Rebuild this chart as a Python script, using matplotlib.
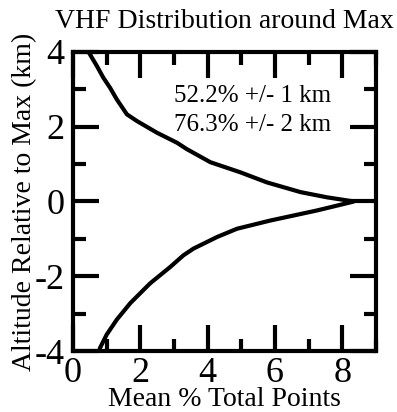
import matplotlib
matplotlib.use('Agg')
import matplotlib.pyplot as plt
from matplotlib.ticker import MultipleLocator

# Upper branch (above max), altitude km vs mean % total points
upper_pct = [0.46, 0.71, 0.90, 1.10, 1.30, 1.60, 1.90, 2.49, 3.09, 3.38, 4.08,
             4.97, 5.76, 6.76, 7.55, 8.35]
upper_alt = [4.0, 3.62, 3.31, 3.04, 2.73, 2.33, 2.15, 1.84, 1.57, 1.40, 1.05,
             0.78, 0.51, 0.25, 0.11, 0.0]

# Lower branch (below max)
lower_pct = [8.35, 7.25, 5.86, 4.87, 4.28, 3.58, 3.28, 2.89, 2.29, 1.70, 1.30,
             1.00, 0.80, 0.78]
lower_alt = [0.0, -0.24, -0.51, -0.73, -0.95, -1.26, -1.44, -1.75, -2.19, -2.72,
             -3.16, -3.56, -3.92, -4.0]

notes = ['52.2% +/- 1 km', '76.3% +/- 2 km']

plt.rcParams['font.family'] = 'Liberation Serif'

fig = plt.figure(figsize=(3.97, 4.12), dpi=100)
ax = fig.add_axes([0.184, 0.148, 0.763, 0.726])

ax.plot(upper_pct + lower_pct[1:], upper_alt + lower_alt[1:], color='black',
        linewidth=3, solid_joinstyle='miter')

ax.set_xlim(0, 9)
ax.set_ylim(-4, 4)
ax.xaxis.set_major_locator(MultipleLocator(2))
ax.xaxis.set_minor_locator(MultipleLocator(1))
ax.yaxis.set_major_locator(MultipleLocator(2))
ax.yaxis.set_minor_locator(MultipleLocator(1))
ax.tick_params(which='both', direction='in', top=True, right=True, width=3,
               labelsize=26)
ax.tick_params(axis='y', pad=6)
ax.tick_params(axis='x', pad=4)
ax.tick_params(which='major', length=19)
ax.tick_params(which='minor', length=9)
ax.set_yticks([-4, -2, 0, 2, 4])
ax.set_yticklabels(['-4', '-2', '0', '2', '4'])

for sp in ax.spines.values():
    sp.set_linewidth(3)

ax.set_title('VHF Distribution around Max', fontsize=20, pad=17)
ax.set_xlabel('Mean % Total Points', fontsize=20, labelpad=-2)
ax.set_ylabel('Altitude Relative to Max (km)', fontsize=20, labelpad=-2)

ax.text(0.594, 0.853, notes[0], transform=ax.transAxes, ha='center',
        va='center', fontsize=18)
ax.text(0.594, 0.756, notes[1], transform=ax.transAxes, ha='center',
        va='center', fontsize=18)

fig.savefig('out.png', dpi=100)
